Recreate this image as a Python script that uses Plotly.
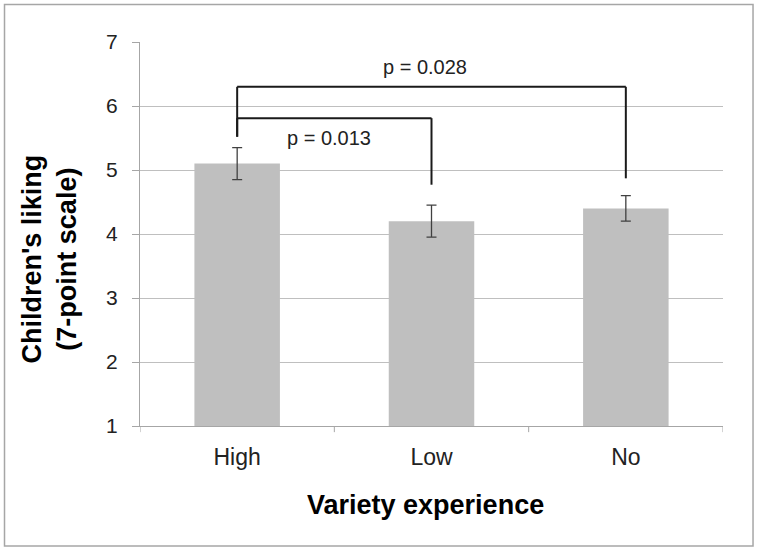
import plotly.graph_objects as go

categories = ["High", "Low", "No"]
means = [5.1, 4.2, 4.4]
err_plus = [0.25, 0.25, 0.2]
err_minus = [0.25, 0.25, 0.2]
y_ticks = [1, 2, 3, 4, 5, 6, 7]

# significance brackets: (left cat idx, right cat idx, top y, left bottom y, right bottom y, label, label x, label y)
brackets = [
    (0, 2, 6.30, 5.52, 4.87, "p = 0.028", 0.967, 6.61),
    (0, 1, 5.81, 5.52, 4.77, "p = 0.013", 0.473, 5.5),
]

FONT = "Liberation Sans, Arial, sans-serif"

fig = go.Figure()
fig.add_trace(go.Bar(
    x=list(range(len(categories))), y=means, width=0.44,
    marker=dict(color="#bfbfbf", line=dict(width=0)),
    error_y=dict(type="data", symmetric=False, array=err_plus, arrayminus=err_minus,
                 color="#404040", thickness=1.3, width=5),
    base=0,
))

shapes = []
annotations = []
for l, r, top, lb, rb, label, lx, ly in brackets:
    line = dict(color="#1a1a1a", width=2)
    shapes.append(dict(type="line", xref="x", yref="y", x0=l, x1=r, y0=top, y1=top, line=line))
    shapes.append(dict(type="line", xref="x", yref="y", x0=l, x1=l, y0=lb, y1=top, line=line))
    shapes.append(dict(type="line", xref="x", yref="y", x0=r, x1=r, y0=rb, y1=top, line=line))
    annotations.append(dict(x=lx, y=ly, xref="x", yref="y", text=label, showarrow=False,
                            xanchor="center", yanchor="middle",
                            font=dict(family=FONT, size=20, color="#222")))

# figure border
shapes.append(dict(type="rect", xref="paper", yref="paper", x0=-0.2324, x1=1.0515, y0=-0.3125, y1=1.0977,
                   line=dict(color="#a6a6a6", width=1.5)))

annotations.append(dict(x=-0.155, y=0.435, xref="paper", yref="paper",
                        xanchor="center", yanchor="middle",
                        text="<b>Children's liking<br>(7-point scale)</b>", textangle=-90,
                        showarrow=False, font=dict(family=FONT, size=27, color="#000")))
annotations.append(dict(x=0.489, y=-0.206, xref="paper", yref="paper",
                        xanchor="center", yanchor="middle",
                        text="<b>Variety experience</b>",
                        showarrow=False, font=dict(family=FONT, size=27, color="#000")))

fig.update_layout(
    width=758, height=550,
    margin=dict(l=140, r=35, t=42, b=124),
    plot_bgcolor="white", paper_bgcolor="white",
    showlegend=False,
    shapes=shapes, annotations=annotations,
    xaxis=dict(tickvals=list(range(len(categories))), ticktext=categories,
               range=[-0.5, 2.5], showgrid=False, showline=True, linecolor="#a6a6a6", linewidth=1,
               tickfont=dict(family=FONT, size=23, color="#222"),
               ticks="", zeroline=False, ticklabelstandoff=10),
    yaxis=dict(range=[1, 7], tickvals=y_ticks, showgrid=True, gridcolor="#bfbfbf", gridwidth=1,
               showline=True, linecolor="#a6a6a6", linewidth=1, ticks="outside", ticklen=7,
               tickcolor="#a6a6a6", zeroline=False, ticklabelstandoff=10,
               tickfont=dict(family=FONT, size=21, color="#222")),
)

# x-axis boundary ticks
for b in [-0.5, 0.5, 1.5, 2.5]:
    fig.add_shape(type="line", xref="x", yref="paper", x0=b, x1=b, y0=0, y1=-0.016,
                  line=dict(color="#a6a6a6", width=1))

fig.write_html("out.html", config={"displayModeBar": False},
               post_script="document.body.style.margin='0px';")
